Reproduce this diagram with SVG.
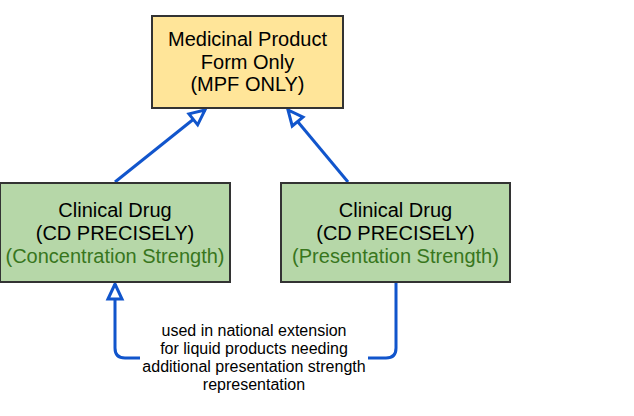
<svg xmlns="http://www.w3.org/2000/svg" width="634" height="416" viewBox="0 0 634 416">
<style>
.box{stroke:#333333;stroke-width:2}
.t{font-family:"Liberation Sans",Arial,sans-serif;font-size:20px;fill:#000;text-anchor:middle}
.g{fill:#38761d}
.lbl{font-family:"Liberation Sans",Arial,sans-serif;font-size:16px;fill:#000;text-anchor:middle}
.c{fill:none;stroke:#1155cc;stroke-width:3}
</style>
<defs>
<marker id="tri" markerUnits="userSpaceOnUse" markerWidth="20" markerHeight="20" viewBox="0 0 20 20" refX="17" refY="10" orient="auto">
<path d="M2,3 L17,10 L2,17 z" fill="#ffffff" stroke="#1155cc" stroke-width="3" stroke-linejoin="miter"/>
</marker>
</defs>
<rect width="634" height="416" fill="#ffffff"/>
<g id="connectors">
<path class="c" d="M115,182 L205,110" marker-end="url(#tri)"/>
<path class="c" d="M348,182 L288,110" marker-end="url(#tri)"/>
<path class="c" d="M396,282 V348 Q396,358 386,358 H368"/>
<path class="c" d="M140,358 H125 Q115,358 115,348 V284" marker-end="url(#tri)"/>
<text class="lbl" x="254" y="336">used in national extension</text>
<text class="lbl" x="254" y="354">for liquid products needing</text>
<text class="lbl" x="254" y="372">additional presentation strength</text>
<text class="lbl" x="254" y="390">representation</text>
</g>
<g id="mpf">
<rect class="box" x="152" y="16" width="191" height="92" fill="#ffe599"/>
<text class="t" x="247.5" y="46">Medicinal Product</text>
<text class="t" x="247.5" y="68.5">Form Only</text>
<text class="t" x="247.5" y="91">(MPF ONLY)</text>
</g>
<g id="cd-concentration">
<rect class="box" x="0" y="183" width="230" height="99" fill="#b6d7a8"/>
<text class="t" x="115" y="217">Clinical Drug</text>
<text class="t" x="115" y="240">(CD PRECISELY)</text>
<text class="t g" x="115" y="263">(Concentration Strength)</text>
</g>
<g id="cd-presentation">
<rect class="box" x="281" y="183" width="229" height="99" fill="#b6d7a8"/>
<text class="t" x="395.5" y="217">Clinical Drug</text>
<text class="t" x="395.5" y="240">(CD PRECISELY)</text>
<text class="t g" x="395.5" y="263">(Presentation Strength)</text>
</g>
</svg>
